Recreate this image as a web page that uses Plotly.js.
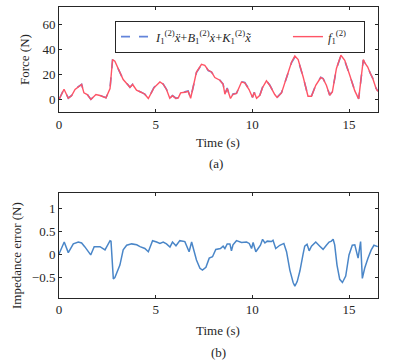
<!DOCTYPE html>
<html>
<head>
<meta charset="utf-8">
<script src="https://cdn.plot.ly/plotly-3.0.1.min.js"></script>
<style>html,body{margin:0;padding:0;background:#fff;}#chart{width:394px;height:364px;}</style>
</head>
<body>
<div id="chart"></div>
<script>
// ---- data ----
var forceTime = [0,0.26,0.48,0.65,0.83,1.09,1.17,1.29,1.46,1.65,1.91,2.12,2.43,2.64,2.77,2.89,3.12,3.32,3.58,3.67,3.81,4.01,4.27,4.44,4.62,4.91,5.22,5.39,5.56,5.73,5.87,6.05,6.17,6.29,6.51,6.68,6.81,6.94,7.11,7.37,7.54,7.72,7.89,8.06,8.32,8.49,8.58,8.70,8.87,9.00,9.18,9.44,9.61,9.83,10.01,10.10,10.22,10.39,10.53,10.73,10.90,11.16,11.28,11.51,11.77,12.03,12.20,12.37,12.63,12.88,13.06,13.28,13.54,13.66,13.83,14.00,14.14,14.35,14.58,14.78,15.04,15.30,15.50,15.74,15.83,15.97,16.10,16.23,16.40,16.49];
var forceMeasured = [0,8.2,1,3,8,10.6,12,5.3,4,0,4,3.2,1.3,8.8,32,30.6,23.4,16,11.4,9.6,12,7.4,5.6,4.2,0.8,9.3,14,12.2,8,1,3,0.8,1.3,5.3,5.8,6.6,1,10,22,28.2,27.4,23.4,22,17.6,15.4,12.2,4.2,8.8,0.8,4.2,4.8,14,13.3,8,1.6,5.6,1,3.4,9.6,14.9,11.4,4,1.6,5.3,18,30,34.8,32,18,2.6,2.6,11.4,17.6,16.6,11.4,3.4,6.1,24.8,35.4,31.4,19.4,6.9,0.5,32,29,26,21,16.8,8.8,6.5];
var forceModel = [0,8.4,1.1,3.2,8.2,10.8,12.2,5.4,4.2,0.1,4.1,3.3,1.4,9.1,31.4,30.1,23.2,16.1,11.6,9.8,12.2,7.6,5.7,4.3,0.9,9.6,14.2,12.4,8.2,1.2,3.2,1,1.5,5.6,6.1,6.8,1.1,9.9,21.6,27.8,27.1,23.2,21.9,17.7,15.5,12.4,4.3,9.1,1,4.4,5,14.2,13.6,8.2,1.8,5.8,1.1,3.5,9.9,15.1,11.6,4.2,1.7,5.5,17.9,29.5,34,31.4,17.9,2.8,2.8,11.6,17.8,16.8,11.6,3.6,6.3,24.6,34.8,30.9,19.3,7.1,0.7,31.5,28.7,25.8,21,16.9,9,6.7];

var errTime = [0,0.27,0.48,0.74,1.0,1.17,1.33,1.51,1.64,1.82,2.12,2.38,2.64,2.69,2.81,2.89,3.15,3.32,3.5,3.76,4.02,4.19,4.44,4.62,4.84,5.05,5.22,5.39,5.56,5.74,5.87,6.05,6.25,6.51,6.63,6.73,6.86,6.97,7.11,7.29,7.42,7.6,7.77,7.94,8.11,8.35,8.49,8.58,8.7,8.84,8.92,9.0,9.18,9.44,9.7,9.84,9.96,10.04,10.18,10.3,10.42,10.53,10.65,10.77,10.99,11.07,11.21,11.42,11.63,11.77,11.94,12.11,12.2,12.32,12.46,12.63,12.71,12.83,12.94,13.06,13.28,13.49,13.66,13.83,13.97,14.09,14.18,14.26,14.38,14.52,14.66,14.83,15.0,15.17,15.3,15.47,15.56,15.6,15.69,15.81,15.98,16.15,16.29,16.42,16.49];
var errValue = [0,0.26,0.03,0.22,0.26,0.24,0.16,0.05,-0.02,0.16,0.16,0.09,0.29,0.28,-0.54,-0.51,-0.24,0.09,0.19,0.22,0.2,0.16,0.12,0.05,0.29,0.26,0.23,0.26,0.22,0.15,0.26,0.18,0.29,0.27,0.16,0.05,0.26,0.1,-0.13,-0.31,-0.35,-0.29,-0.09,-0.06,0.1,0.12,0.17,0.12,0.22,0.22,0.07,0.2,0.29,0.25,0.26,0.23,0.12,0.25,0.05,0.12,0.19,0.32,0.24,0.28,0.27,0.3,0.12,0.19,0.23,0.05,-0.35,-0.62,-0.7,-0.6,-0.37,0.01,0.17,0.21,0.07,0.17,0.26,0.17,0.1,0.19,0.26,0.28,0.32,0.2,-0.24,-0.55,-0.62,-0.48,-0.02,0.19,0.2,-0.09,0.26,0.27,-0.53,-0.31,-0.09,0.09,0.19,0.16,0.16];

var xTicks = [0,5,10,15];
var forceTicks = [0,20,40,60];
var errTicks = [-0.5,0,0.5,1];

var modelName = '<i>I</i><sub>1</sub><sup>(2)</sup><i>ẍ</i>+<i>B</i><sub>1</sub><sup>(2)</sup><i>ẋ</i>+<i>K</i><sub>1</sub><sup>(2)</sup><i>x̃</i>' + '\u00A0'.repeat(10);
var measuredName = '<i>f</i><sub>1</sub><sup>(2)</sup>' + '\u00A0'.repeat(4);

// ---- drawing ----
var W = 394, H = 364;
var FONT = 'Liberation Serif';
var AX = '#262626';

var traces = [
  {x: forceTime, y: forceModel, type: 'scatter', mode: 'lines', name: modelName,
   line: {color: '#6384da', width: 1.6, dash: 'dash'}, xaxis: 'x', yaxis: 'y'},
  {x: forceTime, y: forceMeasured, type: 'scatter', mode: 'lines', name: measuredName,
   line: {color: '#ff5466', width: 1.4}, xaxis: 'x', yaxis: 'y'},
  {x: errTime, y: errValue, type: 'scatter', mode: 'lines', showlegend: false,
   line: {color: '#4a86c8', width: 1.5}, xaxis: 'x2', yaxis: 'y2'}
];

function axisBase() {
  return {
    showline: true, linecolor: AX, linewidth: 1, mirror: 'ticks',
    ticks: 'inside', ticklen: 3, tickcolor: AX, tickwidth: 1,
    showgrid: false, zeroline: false,
    tickfont: {family: FONT, size: 13, color: AX}
  };
}
var xa = Object.assign(axisBase(), {domain: [59/W, 378/W], range: [0, 16.5], tickvals: xTicks, anchor: 'y'});
var ya = Object.assign(axisBase(), {domain: [1-112/H, 1-7/H], range: [-10, 74], tickvals: forceTicks, anchor: 'x'});
var xa2 = Object.assign(axisBase(), {domain: [59/W, 378/W], range: [0, 16.5], tickvals: xTicks, anchor: 'y2'});
var ya2 = Object.assign(axisBase(), {domain: [1-297.7/H, 1-193.3/H], range: [-0.95, 1.32], tickvals: errTicks, anchor: 'x2'});

function ann(text, x, y, angle) {
  return {text: text, xref: 'paper', yref: 'paper', x: x/W, y: 1-y/H, showarrow: false,
    xanchor: 'center', yanchor: 'middle', textangle: angle || 0,
    font: {family: FONT, size: 13, color: AX}};
}

var layout = {
  width: W, height: H,
  margin: {l: 0, r: 0, t: 0, b: 0},
  paper_bgcolor: '#ffffff', plot_bgcolor: '#ffffff',
  xaxis: xa, yaxis: ya, xaxis2: xa2, yaxis2: ya2,
  showlegend: true,
  legend: {orientation: 'h', x: 115/W, y: 1-21/H, xanchor: 'left', yanchor: 'top',
    bordercolor: AX, borderwidth: 1, bgcolor: '#ffffff',
    font: {family: FONT, size: 12.5, color: AX}, tracegroupgap: 0},
  annotations: [
    ann('Force (N)', 25, 60, -90),
    ann('Time (s)', 218, 143),
    ann('(a)', 216, 163),
    ann('Impedance error (N)', 16, 256, -90),
    ann('Time (s)', 218, 330),
    ann('(b)', 218, 352)
  ]
};

Plotly.newPlot('chart', traces, layout, {displayModeBar: false});
</script>
</body>
</html>
